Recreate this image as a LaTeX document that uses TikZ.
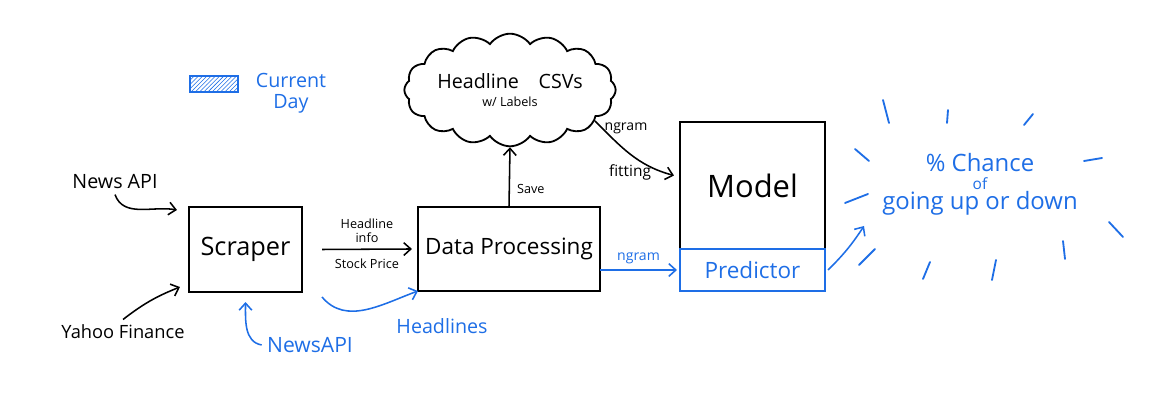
\documentclass[tikz,border=0pt]{standalone}
\usepackage{fontspec}
\setmainfont{Open Sans}
\usetikzlibrary{positioning,shapes.symbols,arrows.meta,patterns}

\definecolor{inkblue}{RGB}{30,110,230}
\newcommand{\fsz}[2]{\fontsize{#1}{#2}\selectfont}

\tikzset{
  box/.style={draw, line width=1.3pt, outer sep=0pt, inner sep=0pt},
  lbl/.style={inner sep=1pt, font=\fsz{9}{10}, align=center},
  ray/.style={inkblue, line width=1.3pt, line cap=round},
}

\begin{document}
\begin{tikzpicture}[x=0.025cm, y=0.025cm, line width=1.1pt,
    >={Straight Barb[length=5pt, width=9pt]}]

  \useasboundingbox (0,0) rectangle (1152,418);

  % Main blocks
  \node[box, minimum width=2.825cm, minimum height=2.125cm, font=\fsz{18}{20}]
    (scraper) at (245.5,168.5) {Scraper};
  \node[box, minimum width=4.55cm, minimum height=2.1cm, font=\fsz{16}{18}]
    (dp) at (509,169) {Data Processing};
  \node[box, minimum width=3.625cm, minimum height=3.175cm, font=\fsz{22}{24}]
    (model) at (752.5,232.5) {Model};
  \node[box, draw=inkblue, text=inkblue, minimum width=3.625cm, minimum height=1.05cm,
    font=\fsz{16}{18}, below=0pt of model] (predictor) {Predictor};

  % Stored headlines
  \node[cloud, draw, line width=1.3pt, cloud puffs=16, cloud puff arc=110, aspect=2.2,
    inner sep=0pt, minimum width=4.9cm, minimum height=2.45cm, align=center,
    font=\fsz{14}{16}]
    (csv) at (510,328) {Headline\quad CSVs\\[-3pt]{\fsz{9}{10}w/ Labels}};

  % Legend
  \node[draw=inkblue, line width=1.2pt, pattern=north east lines, pattern color=inkblue,
    minimum width=1.2cm, minimum height=0.4cm] (legend) at (214,334) {};
  \node[inkblue, align=center, font=\fsz{14}{15}] (curday) at (291,325) {Current\\Day};

  % Sources
  \node[font=\fsz{14}{16}] (newsapi) at (115,236) {News API};
  \node[font=\fsz{13}{15}] (yahoo) at (123,86) {Yahoo Finance};
  \node[inkblue, font=\fsz{15}{17}] (newsapib) at (310,73) {NewsAPI};

  \draw[->] (newsapi.south) to[out=-70, in=170] ([shift={(-12,-3)}]scraper.north west);
  \draw[->] (yahoo.north) to[bend left=8] ([shift={(-9,5)}]scraper.south west);
  \draw[->, inkblue] (newsapib.west) to[out=170, in=-90] ([shift={(0,-10)}]scraper.south);

  % Scraper to processing
  \draw[->] ([shift={(20,0)}]scraper.east) -- ([shift={(-6,0)}]dp.west)
    node[lbl, midway, above=3pt] (hinfo) {Headline\\[0pt]info}
    node[lbl, midway, below=5pt] (sprice) {Stock Price};
  \draw[->, inkblue] ([shift={(20,-5)}]scraper.south east) to[out=-50, in=200] (dp.south west);
  \node[inkblue, font=\fsz{14}{16}] (headlines) at (442,92) {Headlines};

  % Processing to storage and model
  \draw[->] (dp.north) -- (csv.south)
    node[lbl, pos=0.3, right=4pt] (save) {Save};
  \draw[->] (csv.-20) to[out=-45, in=165] ([shift={(-6,10)}]model.west);
  \node[lbl, font=\fsz{10}{11}] (ngramtop) at (626,290) {ngram};
  \node[lbl, font=\fsz{11}{12}] (fitting) at (630,246) {fitting};
  \draw[->, inkblue] ([shift={(0,-21)}]dp.east) -- ([shift={(-3,0)}]predictor.west)
    node[lbl, inkblue, font=\fsz{10}{11}, midway, above=3pt] (ngrambot) {ngram};

  % Prediction output
  \node[inkblue, align=center, font=\fsz{17}{18}] (chance) at (980,234)
    {\% Chance\\[-5pt]{\fsz{11}{11}of}\\[-4pt]going up or down};
  \coordinate (chancein) at (864,192);
  \draw[->, inkblue] ([shift={(3,0)}]predictor.east) to[bend right=6] (chancein);

  \foreach \xa/\ya/\xb/\yb in {883/318/889/295, 948/308/947/295, 1033/304/1024/293,
      855/269/869/257, 1084/257/1102/260, 845/215/868/224, 1109/196/1123/181,
      859/153/875/169, 930/156/923/139, 996/158/992/138, 1063/177/1065/159}
    \draw[ray] (\xa,\ya) -- (\xb,\yb);

\end{tikzpicture}
\end{document}
